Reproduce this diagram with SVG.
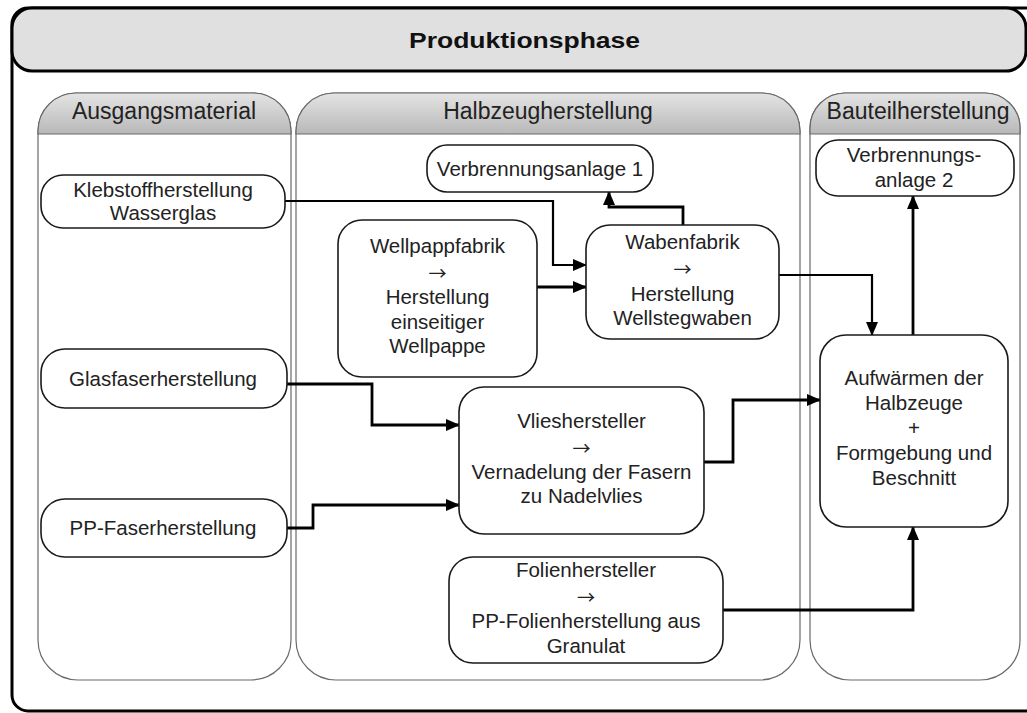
<svg xmlns="http://www.w3.org/2000/svg" width="1027" height="713" viewBox="0 0 1027 713">
  <defs>
    <linearGradient id="laneHead" x1="0" y1="0" x2="0" y2="1">
      <stop offset="0" stop-color="#e4e4e4"/>
      <stop offset="1" stop-color="#b8b8b8"/>
    </linearGradient>
    <marker id="arrow" markerUnits="userSpaceOnUse" markerWidth="14" markerHeight="12" refX="13" refY="6" orient="auto">
      <path d="M0,0 L14,6 L0,12 Z" fill="#000"/>
    </marker>
    <style>
      .frame { fill: #fff; stroke: #000; stroke-width: 3; }
      .title-bar { fill: #e0e0e0; stroke: #000; stroke-width: 3; }
      .title { font-family: "Liberation Sans", Arial, sans-serif; font-weight: bold; font-size: 22px; fill: #111; }
      .lane { fill: #fff; stroke: #6a6a6a; stroke-width: 1.2; }
      .lane-head { fill: url(#laneHead); stroke: #6a6a6a; stroke-width: 1.2; }
      .lane-title { font-family: "Liberation Sans", Arial, sans-serif; font-size: 23px; fill: #222; text-anchor: middle; }
      .node rect { fill: #fff; stroke: #1a1a1a; stroke-width: 1.6; }
      .node text { font-family: "Liberation Sans", "DejaVu Sans", Arial, sans-serif; font-size: 20.5px; fill: #222; text-anchor: middle; }
      .node text.sym { font-family: "Noto Sans CJK SC", "DejaVu Sans", sans-serif; font-size: 18px; }
      .edge { fill: none; stroke: #000; stroke-width: 2.8; marker-end: url(#arrow); }
      .edge.thin { stroke-width: 2.2; }
    </style>
  </defs>

  <!-- outer frame with title bar -->
  <g id="frame">
    <rect class="frame" x="12" y="8" width="1030" height="703" rx="16"/>
    <rect class="title-bar" x="12" y="8" width="1014" height="63" rx="20"/>
    <text class="title" x="409" y="48" textLength="231" lengthAdjust="spacingAndGlyphs">Produktionsphase</text>
  </g>

  <!-- swimlanes -->
  <g id="lane-ausgangsmaterial">
    <path class="lane" d="M38,131 A38,38 0 0 1 76,93 H253 A38,38 0 0 1 291,131 V640 A40,40 0 0 1 251,680 H78 A40,40 0 0 1 38,640 Z"/>
    <path class="lane-head" d="M38,134 V131 A38,38 0 0 1 76,93 H253 A38,38 0 0 1 291,131 V134 Z"/>
    <text class="lane-title" x="164" y="119">Ausgangsmaterial</text>
  </g>
  <g id="lane-halbzeugherstellung">
    <path class="lane" d="M296,131 A38,38 0 0 1 334,93 H762 A38,38 0 0 1 800,131 V640 A40,40 0 0 1 760,680 H336 A40,40 0 0 1 296,640 Z"/>
    <path class="lane-head" d="M296,134 V131 A38,38 0 0 1 334,93 H762 A38,38 0 0 1 800,131 V134 Z"/>
    <text class="lane-title" x="548" y="119">Halbzeugherstellung</text>
  </g>
  <g id="lane-bauteilherstellung">
    <path class="lane" d="M810,128 A35,35 0 0 1 845,93 H985 A35,35 0 0 1 1020,128 V640 A40,40 0 0 1 980,680 H850 A40,40 0 0 1 810,640 Z"/>
    <path class="lane-head" d="M810,134 V128 A35,35 0 0 1 845,93 H985 A35,35 0 0 1 1020,128 V134 Z"/>
    <text class="lane-title" x="918" y="119">Bauteilherstellung</text>
  </g>

  <!-- connectors -->
  <g id="connectors">
    <path class="edge thin" d="M285,201 H553 V265 H586"/>
    <path class="edge" d="M537,287 H586"/>
    <path class="edge" d="M683,225 V207 H609 V192"/>
    <path class="edge thin" d="M779,275 H872 V335"/>
    <path class="edge" d="M913,335 V196"/>
    <path class="edge" d="M287,384 H372 V425 H459"/>
    <path class="edge" d="M287,528 H313 V505 H459"/>
    <path class="edge" d="M704,462 H733 V400 H820"/>
    <path class="edge" d="M723,610 H913 V527"/>
  </g>

  <!-- nodes -->
  <g id="klebstoffherstellung" class="node">
    <rect x="41" y="175" width="244" height="53" rx="22"/>
    <text x="163" y="197">Klebstoffherstellung</text>
    <text x="163" y="220">Wasserglas</text>
  </g>
  <g id="glasfaserherstellung" class="node">
    <rect x="41" y="349" width="246" height="59" rx="24"/>
    <text x="163" y="386">Glasfaserherstellung</text>
  </g>
  <g id="pp-faserherstellung" class="node">
    <rect x="41" y="499" width="246" height="58" rx="24"/>
    <text x="163" y="535">PP-Faserherstellung</text>
  </g>
  <g id="verbrennungsanlage-1" class="node">
    <rect x="427" y="145" width="226" height="47" rx="20"/>
    <text x="540" y="176">Verbrennungsanlage 1</text>
  </g>
  <g id="wellpappfabrik" class="node">
    <rect x="338" y="220" width="199" height="157" rx="24"/>
    <text x="437.5" y="253">Wellpappfabrik</text>
    <text class="sym" x="437.5" y="280">→</text>
    <text x="437.5" y="304">Herstellung</text>
    <text x="437.5" y="329">einseitiger</text>
    <text x="437.5" y="353">Wellpappe</text>
  </g>
  <g id="wabenfabrik" class="node">
    <rect x="586" y="225" width="193" height="114" rx="24"/>
    <text x="682.5" y="249">Wabenfabrik</text>
    <text class="sym" x="682.5" y="276">→</text>
    <text x="682.5" y="301">Herstellung</text>
    <text x="682.5" y="325">Wellstegwaben</text>
  </g>
  <g id="vlieshersteller" class="node">
    <rect x="459" y="387" width="245" height="147" rx="25"/>
    <text x="581.5" y="428">Vlieshersteller</text>
    <text class="sym" x="581.5" y="455">→</text>
    <text x="581.5" y="479">Vernadelung der Fasern</text>
    <text x="581.5" y="503">zu Nadelvlies</text>
  </g>
  <g id="folienhersteller" class="node">
    <rect x="449" y="557" width="274" height="106" rx="24"/>
    <text x="586" y="577">Folienhersteller</text>
    <text class="sym" x="586" y="604">→</text>
    <text x="586" y="628">PP-Folienherstellung aus</text>
    <text x="586" y="653">Granulat</text>
  </g>
  <g id="verbrennungsanlage-2" class="node">
    <rect x="816" y="140" width="198" height="56" rx="22"/>
    <text x="914" y="162">Verbrennungs-</text>
    <text x="914" y="187">anlage 2</text>
  </g>
  <g id="aufwaermen" class="node">
    <rect x="820" y="335" width="188" height="192" rx="26"/>
    <text x="914" y="385">Aufwärmen der</text>
    <text x="914" y="410">Halbzeuge</text>
    <text x="914" y="435">+</text>
    <text x="914" y="460">Formgebung und</text>
    <text x="914" y="485">Beschnitt</text>
  </g>
</svg>
